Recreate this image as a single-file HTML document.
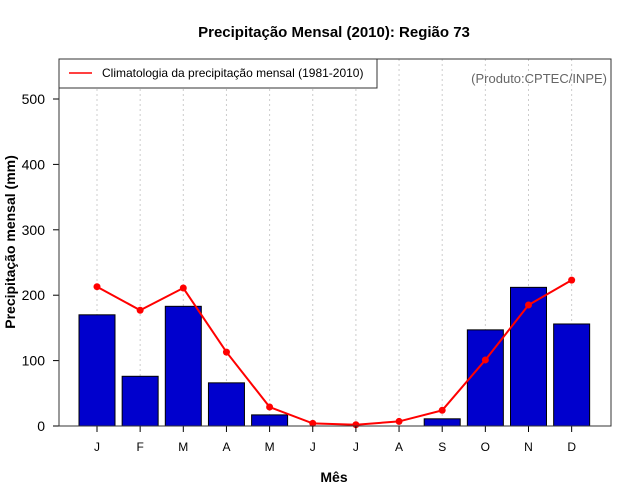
<!DOCTYPE html>
<html><head><meta charset="utf-8"><style>body{margin:0;background:#fff}svg{display:block;font-family:"Liberation Sans",sans-serif}</style></head>
<body>
<svg id="c" width="640" height="500">
<text x="334" y="37" text-anchor="middle" font-size="15" font-weight="bold">Precipitação Mensal (2010): Região 73</text>
<text x="334" y="482" text-anchor="middle" font-size="14" font-weight="bold">Mês</text>
<text transform="translate(15,242) rotate(-90)" text-anchor="middle" font-size="14" font-weight="bold">Precipitação mensal (mm)</text>
<g id="grid"></g><g id="bars"></g><g id="line"></g><g id="axes"></g>
<rect x="59" y="59" width="552" height="367" fill="none" stroke="#333" stroke-width="1"/>
<g>
<rect x="59" y="59" width="318" height="29" fill="#fff" stroke="#333"/>
<line x1="69" y1="73" x2="92" y2="73" stroke="#f00" stroke-width="1.5"/>
<text x="102" y="77" font-size="12">Climatologia da precipitação mensal (1981-2010)</text>
</g>
<text x="607" y="83" text-anchor="end" font-size="13" fill="#666">(Produto:CPTEC/INPE)</text>
</svg>
<script>
const months=["J","F","M","A","M","J","J","A","S","O","N","D"];
const observed=[170,76,183,66,17,0,0,0,11,147,212,156];
const climatology=[213,177,211,113,29,4,2,7,24,101,185,223];
const yTicks=[0,100,200,300,400,500];
const NS="http://www.w3.org/2000/svg";
const xs=i=>97+i*43.15;
const ys=v=>426-v*0.654;
function mk(t,a,p){const e=document.createElementNS(NS,t);for(const k in a)e.setAttribute(k,a[k]);document.getElementById(p).appendChild(e);return e;}
months.forEach((m,i)=>{
 const g=mk("line",{x1:xs(i),x2:xs(i),y1:59,y2:426,stroke:"#ccc","stroke-dasharray":"2,3"},"grid");
 
 
 const b=mk("rect",{x:xs(i)-18,y:ys(observed[i]),width:36,height:426-ys(observed[i]),fill:"#0000cd",stroke:"#000","stroke-width":1},"bars");
 
 
 const t=mk("line",{x1:xs(i),x2:xs(i),y1:426,y2:432,stroke:"#000"},"axes");
 
 
 const l=mk("text",{x:xs(i),y:451,"text-anchor":"middle","font-size":12},"axes");l.textContent=m;
 
 
});
const pl=mk("polyline",{points:climatology.map((v,i)=>xs(i)+","+ys(v)).join(" "),fill:"none",stroke:"#f00","stroke-width":2},"line");


climatology.forEach((v,i)=>{
 const c=mk("circle",{cx:xs(i),cy:ys(v),r:3.5,fill:"#f00"},"line");
 
 
});
yTicks.forEach(v=>{
 const t=mk("line",{x1:53,x2:59,y1:ys(v),y2:ys(v),stroke:"#000"},"axes");
 
 
 const l=mk("text",{x:45,y:ys(v)+5,"text-anchor":"end","font-size":14},"axes");l.textContent=v;
 
 
});
</script>
</body></html>
